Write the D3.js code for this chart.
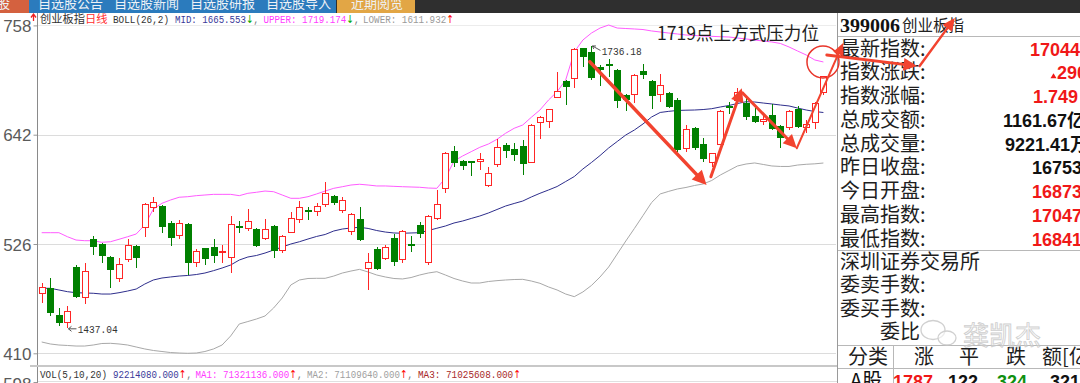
<!DOCTYPE html>
<html><head><meta charset="utf-8">
<script src="https://cdn.jsdelivr.net/npm/d3@7/dist/d3.min.js"></script>
<style>html,body{margin:0;padding:0;background:#fff;overflow:hidden}svg{display:block}</style>
</head><body>
<svg id="chart" width="1080" height="383"></svg>
<script>
// ---------------- DATA ----------------
const openP = [1474.3,1479.0,1450.6,1443.5,1501.9,1470.1,1531.0,1525.7,1512.5,1489.6,
1509.8,1523.9,1544.4,1565.6,1566.3,1548.6,1535.6,1547.2,1506.9,1521.4,
1523.1,1517.2,1512.5,1545.1,1543.3,1541.9,1532.0,1545.4,1519.6,1539.1,
1552.2,1562.1,1561.3,1568.5,1576.9,1562.1,1540.1,1552.2,1500.2,1520.4,
1510.8,1532.0,1509.8,1525.7,1546.2,1507.2,1553.3,1585.1,1625.0,1614.4,
1614.1,1614.1,1588.6,1610.9,1631.1,1626.5,1630.3,1613.3,1655.8,1656.9,
1682.3,1699.3,1701.9,1733.7,1730.1,1713.5,1717.0,1710.7,1684.1,1685.2,
1709.9,1699.3,1684.9,1686.6,1678.8,1627.6,1648.8,1631.8,1613.3,1632.1,
1672.5,1678.8,1676.0,1661.8,1656.9,1662.9,1651.2,1649.9,1669.0,1650.5,
1655.8,1687.3];
const highP = [1484.9,1489.6,1457.8,1460.2,1503.7,1506.2,1534.5,1526.7,1513.3,1510.8,
1531.0,1524.5,1569.2,1576.2,1567.0,1550.4,1551.5,1548.0,1520.4,1522.1,
1531.0,1524.9,1555.7,1550.7,1562.8,1542.5,1552.2,1546.0,1535.6,1560.3,
1572.0,1565.6,1569.2,1592.1,1578.0,1576.2,1559.2,1565.6,1516.1,1523.1,
1524.9,1536.6,1540.9,1534.5,1549.7,1556.8,1583.3,1623.6,1630.0,1615.0,
1614.6,1622.3,1607.4,1637.0,1632.9,1632.9,1636.4,1653.4,1661.8,1669.6,
1708.5,1700.0,1733.6,1734.3,1736.18,1716.0,1722.0,1711.3,1684.7,1706.0,
1716.7,1700.0,1706.1,1687.6,1680.6,1652.3,1650.5,1638.2,1622.9,1668.2,
1676.7,1691.6,1680.6,1670.0,1662.9,1674.6,1652.3,1668.2,1672.5,1657.6,
1677.0,1704.7];
const lowP = [1463.7,1449.9,1438.5,1437.04,1468.4,1462.3,1514.3,1505.5,1479.0,1486.0,
1507.2,1500.2,1533.1,1560.3,1537.4,1523.9,1531.0,1493.1,1501.3,1503.7,
1505.5,1505.5,1494.9,1538.0,1539.8,1523.1,1530.2,1510.8,1516.1,1537.4,
1548.6,1551.5,1555.7,1565.6,1567.4,1559.2,1535.6,1529.5,1477.2,1498.4,
1509.0,1502.7,1505.5,1517.8,1532.0,1503.7,1551.5,1580.4,1607.4,1604.5,
1598.2,1604.5,1586.8,1608.0,1617.0,1614.4,1599.2,1611.6,1637.0,1648.8,
1680.9,1673.5,1691.2,1714.2,1700.1,1693.7,1703.6,1670.0,1667.2,1675.3,
1700.8,1669.0,1677.0,1670.0,1624.0,1624.0,1625.8,1613.3,1607.7,1631.1,
1664.0,1674.6,1657.6,1654.7,1652.3,1647.0,1627.6,1647.0,1648.8,1643.5,
1647.7,1684.1];
const closeP = [1480.7,1452.5,1441.8,1454.9,1469.4,1497.7,1523.1,1513.3,1498.4,1504.5,
1524.9,1510.8,1568.1,1570.3,1543.7,1532.0,1548.0,1506.2,1518.9,1509.8,
1513.3,1518.6,1547.2,1543.0,1550.7,1523.9,1541.9,1518.9,1534.5,1553.3,
1565.6,1560.3,1566.3,1579.8,1569.2,1572.7,1557.8,1530.2,1507.2,1499.1,
1523.1,1507.2,1540.1,1523.9,1536.6,1555.7,1568.5,1622.9,1611.6,1608.8,
1612.3,1615.9,1601.0,1628.6,1625.0,1620.5,1610.6,1652.3,1660.5,1669.0,
1688.7,1692.3,1733.0,1724.8,1701.9,1710.7,1714.9,1678.1,1678.8,1705.4,
1705.4,1683.1,1694.7,1671.7,1625.8,1647.7,1627.6,1615.9,1622.3,1667.2,
1670.3,1687.3,1660.5,1655.8,1658.3,1647.7,1638.2,1667.5,1649.9,1653.0,
1675.3,1704.4];
const bollUpper = [1538.0,1538.0,1538.0,1533.7,1530.2,1529.5,1529.5,1527.8,1528.4,1531.0,
1533.7,1536.6,1546.2,1563.0,1569.2,1572.7,1575.6,1576.2,1577.3,1578.0,
1578.7,1578.7,1578.7,1577.3,1579.8,1580.9,1582.2,1581.5,1578.0,1574.5,
1574.5,1576.2,1579.1,1582.2,1585.1,1586.8,1588.6,1589.4,1588.6,1587.6,
1587.6,1587.2,1586.8,1586.5,1586.2,1585.4,1585.1,1596.0,1614.1,1619.4,
1624.0,1628.6,1632.1,1637.1,1643.5,1648.8,1652.3,1660.5,1668.2,1678.8,
1687.6,1700.1,1729.8,1742.5,1749.9,1755.2,1758.4,1755.2,1754.7,1754.2,
1753.6,1752.1,1751.0,1749.9,1748.9,1747.8,1747.3,1746.7,1746.4,1746.0,
1745.7,1744.6,1743.6,1742.5,1741.4,1740.4,1738.8,1735.1,1730.8,1726.6,
1721.3,1719.174];
const bollMid = [1479.0,1479.0,1477.2,1475.4,1474.3,1474.0,1473.7,1472.9,1472.9,1474.3,
1476.1,1478.2,1483.5,1487.8,1489.9,1491.0,1492.0,1492.6,1493.6,1495.2,
1497.7,1500.5,1503.7,1509.0,1512.2,1513.8,1516.4,1519.6,1522.8,1526.0,
1528.4,1531.3,1534.0,1536.1,1539.8,1541.9,1543.0,1543.7,1542.5,1540.3,
1538.7,1537.7,1537.4,1537.7,1538.0,1540.3,1542.7,1545.1,1548.3,1550.4,
1553.1,1555.7,1558.9,1562.6,1566.3,1569.0,1571.6,1575.9,1579.8,1583.3,
1587.0,1592.3,1597.6,1605.6,1612.5,1619.9,1627.9,1634.8,1641.7,1647.0,
1653.4,1660.8,1665.6,1666.8,1667.7,1668.0,1668.2,1668.7,1669.6,1671.4,
1673.0,1675.1,1677.0,1676.7,1675.6,1674.6,1673.5,1672.5,1670.3,1668.2,
1666.6,1665.553];
const bollLower = [1422.0,1419.9,1418.8,1418.3,1417.7,1417.7,1418.8,1420.4,1420.6,1419.9,
1418.8,1416.7,1414.6,1413.0,1411.9,1410.8,1410.3,1410.0,1410.3,1411.9,
1414.6,1418.8,1428.4,1441.1,1443.7,1446.4,1449.6,1458.1,1468.7,1482.5,
1487.8,1489.4,1489.6,1489.6,1492.0,1495.2,1497.3,1499.1,1496.3,1493.1,
1491.0,1489.4,1488.9,1490.4,1493.1,1495.2,1496.6,1493.1,1489.4,1486.7,
1484.6,1484.6,1486.2,1487.1,1487.8,1488.3,1488.5,1486.7,1484.3,1480.4,
1477.2,1472.9,1470.1,1475.1,1482.0,1491.0,1501.6,1515.4,1529.2,1542.5,
1556.2,1570.0,1579.1,1581.9,1584.4,1586.0,1588.1,1589.7,1593.4,1599.2,
1604.0,1608.8,1610.9,1612.0,1610.4,1608.8,1608.3,1608.3,1609.8,1610.6,
1611.1,1611.932];
const priceTicks = [1410, 1526, 1642, 1758];
const volTickLabels = ["598"];
const volHeaderValues = [92214080, 71321136, 71109640, 71025608];
const tabLabels = ["股","自选股公告","自选股新闻","自选股研报","自选股导入","近期阅览"];
const quoteCode = "399006";
const quoteName = "创业板指";
const quoteLabels = ["最新指数:","指数涨跌:","指数涨幅:","总成交额:","总成交量:","昨日收盘:","今日开盘:","最高指数:","最低指数:"];
const quoteValues = ["17044","290","1.749","1161.67亿","9221.41万","16753","16873","17047","16841"];
const quoteUp = [1,1,1,0,0,0,1,1,1];
const lowerLabels = ["深圳证券交易所","委卖手数:","委买手数:","委比"];
const tableHeaders = ["分类","涨","平","跌","额[亿"];
const tableRow = ["A股","1787","122","324","321"];
const annotationText = "1719点上方式压力位";
// hand-drawn arrows in (candle index, price) space
const trendArrows = [
  [[64.8,1719.5],[78.4,1588.6],3.5],
  [[78.9,1597.4],[82.5,1691.2],3],
  [[82.6,1686.3],[88.9,1627.6],3],
  [[88.9,1627.6],[94.3,1739.3],2],
  [[92.4,1726.6],[102.9,1714.9],3],
  [[103.2,1714.9],[107.3,1765.9],2.5]
];
const circleMark = [91.95, 1719.2];

// ---------------- DRAW ----------------
const svg = d3.select("#chart");
const CJK = "'Noto Sans CJK SC','Noto Sans',sans-serif";
const MONO = "'Liberation Mono','DejaVu Sans Mono',monospace";
const SANS = "'Liberation Sans',Arial,sans-serif";
const RED = "#ff2525", GREEN = "#008000";

const N = openP.length;
const x = d3.scaleLinear().domain([1, N]).range([41.7, 823.4]);
const y = d3.scaleLinear().domain([1410, 1758]).range([353.3, 25.4]);

svg.append("rect").attr("width",1080).attr("height",383).attr("fill","#fff");

// top bar
svg.append("rect").attr("x",0).attr("y",0).attr("width",1080).attr("height",13).attr("fill","#2f2f2f");
const tabRects = [[0,29,"#d4613f"],[29,307,"#2b7bbd"],[337,78,"#e2a645"]];
svg.selectAll("rect.tab").data(tabRects).join("rect").attr("class","tab")
  .attr("x",d=>d[0]).attr("y",0).attr("width",d=>d[1]).attr("height",13).attr("fill",d=>d[2]);
const tabX = [-3, 38, 114, 190, 266, 351];
svg.selectAll("text.tab").data(tabLabels).join("text").attr("class","tab")
  .attr("x",(d,i)=>tabX[i]).attr("y",8).attr("font-family",CJK).attr("font-size",13)
  .attr("fill","#eef2f6").text(d=>d);

// grid lines
svg.selectAll("line.grid").data(priceTicks).join("line").attr("class","grid")
  .attr("x1",38).attr("x2",836)
  .attr("y1",d=>Math.round(y(d))+0.5).attr("y2",d=>Math.round(y(d))+0.5)
  .attr("stroke",(d,i)=>i===3?"#ececec":"#dcdcdc");

// left axis
const axis = d3.axisLeft(y).tickValues(priceTicks).tickFormat(d=>String(d).slice(-3))
  .tickSize(4).tickSizeOuter(0).tickPadding(2);
const gAxis = svg.append("g").attr("transform","translate(37.5,0)").call(axis);
gAxis.select(".domain").remove();
gAxis.selectAll("text").attr("font-family",SANS).attr("font-size",17).attr("fill","#5a5a5a").attr("dy","0.36em");
gAxis.selectAll("line").attr("stroke","#999");
svg.append("line").attr("x1",37.5).attr("x2",37.5).attr("y1",13).attr("y2",383).attr("stroke","#8a8a8a");
svg.append("path").attr("d","M33.5,21 L33.5,15 M31,17.5 L33.5,14 L36,17.5").attr("stroke","#e22").attr("stroke-width",1.3).attr("fill","none");

// volume panel separator & header
svg.append("line").attr("x1",30).attr("x2",837).attr("y1",366).attr("y2",366).attr("stroke","#c8c8c8").attr("stroke-width",2);
svg.append("line").attr("x1",38).attr("x2",837).attr("y1",381.5).attr("y2",381.5).attr("stroke","#e0e0e0");
svg.append("text").attr("x",31.5).attr("y",389.5).attr("text-anchor","end").attr("font-family",SANS)
  .attr("font-size",17).attr("fill","#5a5a5a").text(volTickLabels[0]);
svg.append("line").attr("x1",33.5).attr("x2",37.5).attr("y1",382.5).attr("y2",382.5).attr("stroke","#999");

const fmt3 = v => v.toFixed(3);
// each segment: main text + optional trailing arrow (+comma) drawn in the same text element
function drawSegs(segs, baseY){
  segs.forEach(s=>{
    const t = svg.append("text").attr("x",s.x).attr("y",baseY)
      .attr("font-family", s.cjk?CJK:MONO).attr("font-size", s.cjk?11.25:11);
    t.append("tspan").attr("fill",s.c).text(s.t);
    if(s.arrow){
      t.append("tspan").attr("fill",s.ac).attr("font-family","'DejaVu Sans',sans-serif").text(s.arrow);
      if(s.comma) t.append("tspan").attr("fill","#777").text(",");
    }
    if(s.tl) t.attr("textLength",s.tl).attr("lengthAdjust","spacingAndGlyphs");
  });
}
const volSegs = [
  {t:"VOL(5,10,20)", x:40, tl:67, c:"#333"},
  {t:fmt3(volHeaderValues[0]), x:113, tl:79, c:"#3a3a9a", arrow:"↑", ac:"#f00", comma:1},
  {t:"MA1: "+fmt3(volHeaderValues[1]), x:195.5, tl:107, c:"#ff3cff", arrow:"↑", ac:"#f00", comma:1},
  {t:"MA2: "+fmt3(volHeaderValues[2]), x:307, tl:106, c:"#a0a0a0", arrow:"↑", ac:"#f00", comma:1},
  {t:"MA3: "+fmt3(volHeaderValues[3]), x:418, tl:103, c:"#a82a2a", arrow:"↑", ac:"#f00"}
];
drawSegs(volSegs, 378);

const headSegs = [
  {t:"创业板指", x:40, c:"#333", cjk:1},
  {t:"日线", x:85, c:"#ff3030", cjk:1},
  {t:"BOLL(26,2)", x:113, tl:56, c:"#333"},
  {t:"MID: "+fmt3(bollMid[N-1]), x:175, tl:84, c:"#3a3a9a", arrow:"↓", ac:"#0a0", comma:1},
  {t:"UPPER: "+fmt3(bollUpper[N-1]), x:263.5, tl:96, c:"#ff3cff", arrow:"↓", ac:"#0a0", comma:1},
  {t:"LOWER: "+fmt3(bollLower[N-1]), x:363, tl:91, c:"#9a9a9a", arrow:"↑", ac:"#f00"}
];
drawSegs(headSegs, 23);

// bollinger lines
svg.append("clipPath").attr("id","plotclip").append("rect")
  .attr("x",38).attr("y",13).attr("width",799).attr("height",352);
const gPlot = svg.append("g").attr("clip-path","url(#plotclip)");
const lineGen = d3.line().x((d,i)=>x(i+1)).y(d=>y(d));
[[bollLower,"#a8a8a8"],[bollMid,"#2e2e8c"],[bollUpper,"#ff5cff"]].forEach(([arr,c])=>{
  gPlot.append("path").datum(arr).attr("d",lineGen).attr("fill","none").attr("stroke",c).attr("stroke-width",1);
});

// candles
const candles = d3.range(N).map(i=>({i:i+1,o:openP[i],h:highP[i],l:lowP[i],c:closeP[i]}));
const gC = gPlot.append("g").attr("shape-rendering","crispEdges");
candles.forEach(d=>{
  const cx = Math.round(x(d.i));
  const up = d.c >= d.o;
  const top = y(Math.max(d.o,d.c)), bot = y(Math.min(d.o,d.c));
  const col = up?RED:GREEN;
  if(up){
    gC.append("line").attr("x1",cx+0.5).attr("x2",cx+0.5).attr("y1",y(d.h)).attr("y2",top).attr("stroke",col);
    gC.append("line").attr("x1",cx+0.5).attr("x2",cx+0.5).attr("y1",bot).attr("y2",y(d.l)).attr("stroke",col);
    gC.append("rect").attr("x",cx-2.5).attr("y",Math.round(top)+0.5).attr("width",6)
      .attr("height",Math.max(1,Math.round(bot)-Math.round(top))).attr("fill","#fff").attr("stroke",col);
  } else {
    gC.append("line").attr("x1",cx+0.5).attr("x2",cx+0.5).attr("y1",y(d.h)).attr("y2",y(d.l)).attr("stroke",col);
    gC.append("rect").attr("x",cx-3).attr("y",Math.round(top)).attr("width",7)
      .attr("height",Math.max(2,Math.round(bot)-Math.round(top))).attr("fill",col);
  }
});

// high / low labels
const hiV = d3.max(highP), hiI = highP.indexOf(hiV)+1;
const loV = d3.min(lowP), loI = lowP.indexOf(loV)+1;
const hx = x(hiI), hy = y(hiV);
svg.append("path").attr("d",`M${hx+1},${hy} L${hx+9},${hy+4.5} M${hx+1},${hy} l3.5,0 M${hx+1},${hy} l1.2,3`)
  .attr("stroke","#444").attr("fill","none").attr("stroke-width",0.9);
svg.append("text").attr("x",hx+10.2).attr("y",hy+9).attr("font-family",MONO).attr("font-size",11)
  .attr("fill","#333").attr("textLength",40).attr("lengthAdjust","spacingAndGlyphs").text(d3.format(".2f")(hiV));
const lx = x(loI), ly = y(loV);
svg.append("path").attr("d",`M${lx+1},${ly+1} L${lx+9},${ly+1} M${lx+1},${ly+1} l3,-2.5 M${lx+1},${ly+1} l3,2.5`)
  .attr("stroke","#444").attr("fill","none").attr("stroke-width",0.9);
svg.append("text").attr("x",lx+10.2).attr("y",ly+4.8).attr("font-family",MONO).attr("font-size",11)
  .attr("fill","#333").attr("textLength",40).attr("lengthAdjust","spacingAndGlyphs").text(d3.format(".2f")(loV));

// ---------------- right quote panel ----------------
svg.append("rect").attr("x",838).attr("y",13).attr("width",242).attr("height",370).attr("fill","#fff");
svg.append("line").attr("x1",837.5).attr("x2",837.5).attr("y1",13).attr("y2",383).attr("stroke","#9a9a9a");
svg.append("text").attr("x",840).attr("y",31.5).attr("font-family","'Liberation Serif','DejaVu Serif',serif")
  .attr("font-weight","bold").attr("font-size",19).attr("fill","#111")
  .attr("textLength",60).attr("lengthAdjust","spacingAndGlyphs").text(quoteCode);
svg.append("text").attr("x",902).attr("y",31).attr("font-family",CJK).attr("font-size",15.5)
  .attr("fill","#222").text(quoteName);
[36.5, 250.5, 345.5, 368.5].forEach(yy=>{
  svg.append("line").attr("x1",838).attr("x2",1080).attr("y1",yy).attr("y2",yy).attr("stroke","#b8b8b8");
});
svg.append("line").attr("x1",893.5).attr("x2",893.5).attr("y1",345.5).attr("y2",383).attr("stroke","#b8b8b8");

const rowBase = quoteLabels.map((d,i)=>55.5 + i*23.75);
svg.selectAll("text.ql").data(quoteLabels).join("text").attr("class","ql")
  .attr("x",840).attr("y",(d,i)=>rowBase[i]).attr("font-family",CJK).attr("font-size",20)
  .attr("fill","#1e1e1e").text(d=>d);
const valX = [1030,1057,1033,1003,1005,1032,1032,1032,1032];
svg.selectAll("text.qv").data(quoteValues).join("text").attr("class","qv")
  .attr("x",(d,i)=>valX[i]).attr("y",(d,i)=>rowBase[i]).attr("font-family",SANS+","+CJK)
  .attr("font-weight","bold").attr("font-size",18)
  .attr("fill",(d,i)=>quoteUp[i]?"#f01818":"#111").text(d=>d);
svg.append("path").attr("d",`M1050.5,${rowBase[1]-1} l3,-5 l3,5 z`).attr("fill","#f01818");

const lowBase = [268.5, 292, 315.5, 339];
const lowX = [840, 840, 840, 880];
svg.selectAll("text.ll").data(lowerLabels).join("text").attr("class","ll")
  .attr("x",(d,i)=>lowX[i]).attr("y",(d,i)=>lowBase[i]).attr("font-family",CJK).attr("font-size",20)
  .attr("fill","#1e1e1e").text(d=>d);

const thX = [848, 914, 959, 1006, 1042];
svg.selectAll("text.th").data(tableHeaders).join("text").attr("class","th")
  .attr("x",(d,i)=>thX[i]).attr("y",363.5).attr("font-family",CJK).attr("font-size",20)
  .attr("fill","#1e1e1e").text(d=>d);
const trX = [850, 893, 948, 997, 1050];
const trC = ["#111","#f01818","#111","#109010","#111"];
svg.selectAll("text.tr").data(tableRow).join("text").attr("class","tr")
  .attr("x",(d,i)=>trX[i]).attr("y",388).attr("font-family",(d,i)=>i===0?CJK:SANS)
  .attr("font-weight",(d,i)=>i===0?"normal":"bold").attr("font-size",(d,i)=>i===0?20:18)
  .attr("fill",(d,i)=>trC[i]).text(d=>d);

// watermark
const wm = svg.append("g").attr("opacity",0.85);
wm.append("ellipse").attr("cx",933).attr("cy",330).attr("rx",12).attr("ry",9.5).attr("fill","#fff").attr("fill-opacity",0.6).attr("stroke","#c8c8c8").attr("stroke-width",1.3);
wm.append("ellipse").attr("cx",947).attr("cy",338).attr("rx",9).attr("ry",7).attr("fill","#fff").attr("fill-opacity",0.6).attr("stroke","#c8c8c8").attr("stroke-width",1.3);
wm.append("text").attr("x",963).attr("y",345).attr("font-family",CJK).attr("font-size",26)
  .attr("fill","#fff").attr("fill-opacity",0.4).attr("stroke","#c8c8c8").attr("stroke-width",0.9).text("龚凯杰");

// ---------------- annotations ----------------
svg.append("text").attr("x",657).attr("y",39.5).attr("font-family",CJK).attr("font-size",18)
  .attr("fill","#1e1e1e").attr("textLength",162).attr("lengthAdjust","spacingAndGlyphs").text(annotationText);
svg.append("circle").attr("cx",x(circleMark[0])).attr("cy",y(circleMark[1])).attr("r",16)
  .attr("fill","none").attr("stroke","#e8352a").attr("stroke-width",1.5);
const ARC = "#f2432f";
trendArrows.forEach(([p0,p1,w])=>{
  const x0=x(p0[0]), y0=y(p0[1]), x1=x(p1[0]), y1=y(p1[1]);
  const dx=x1-x0, dy=y1-y0, L=Math.hypot(dx,dy), ux=dx/L, uy=dy/L;
  const hl=9+w*1.5, hw=3.5+w;
  const bx=x1-ux*hl, by=y1-uy*hl;
  svg.append("line").attr("x1",x0).attr("y1",y0).attr("x2",bx+ux*2).attr("y2",by+uy*2)
    .attr("stroke",ARC).attr("stroke-width",w).attr("stroke-linecap","round");
  svg.append("path").attr("d",`M${x1},${y1} L${bx-uy*hw},${by+ux*hw} L${bx+uy*hw},${by-ux*hw} Z`).attr("fill",ARC);
});
</script>
</body></html>
